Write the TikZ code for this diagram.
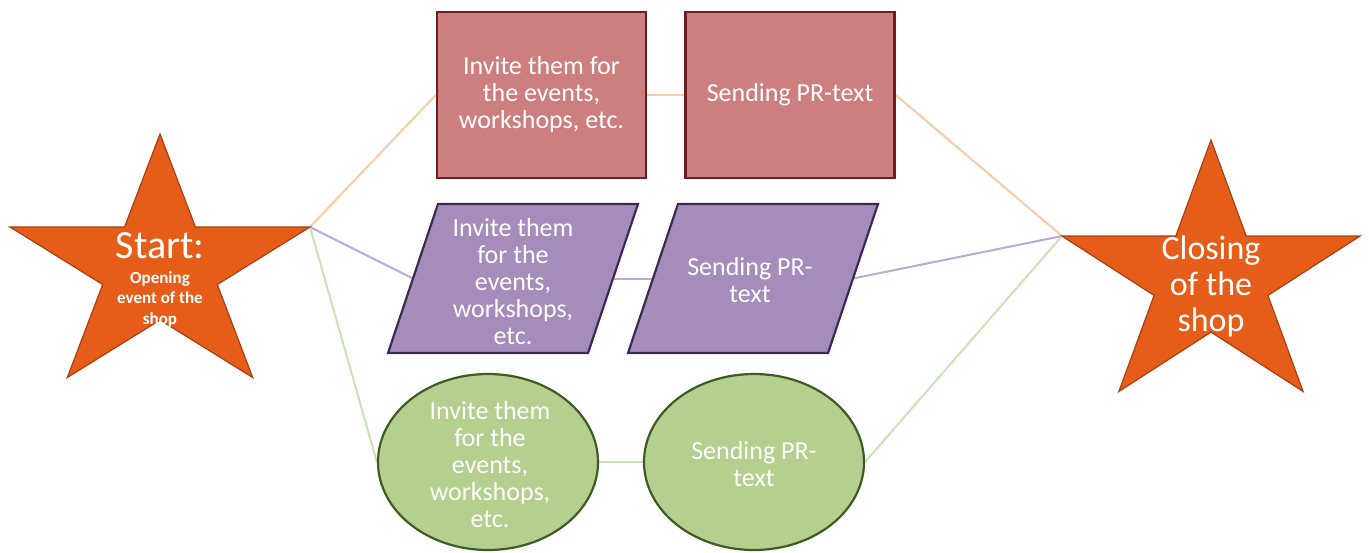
\documentclass[tikz,border=0pt]{standalone}
\usepackage{fontspec}
\setmainfont{Carlito}
\usetikzlibrary{shapes.geometric,backgrounds}

\definecolor{starfill}{HTML}{E65C19}
\definecolor{starline}{HTML}{A8400F}
\definecolor{redfill}{HTML}{CD7E7E}
\definecolor{redline}{HTML}{6A2020}
\definecolor{purfill}{HTML}{A68CBA}
\definecolor{purline}{HTML}{3C2A52}
\definecolor{grnfill}{HTML}{B4CF8E}
\definecolor{grnline}{HTML}{3D5C22}
\definecolor{olink}{HTML}{FBCBA5}
\definecolor{plink}{HTML}{B9A9D6}
\definecolor{glink}{HTML}{CBE3B3}

\begin{document}
\begin{tikzpicture}[x=1pt,y=-1pt,
  txt/.style={text=white, align=center, inner sep=0pt,
              font=\fontsize{26}{27}\selectfont},
  starshape/.style={fill=starfill, draw=starline, line width=1.2pt, line join=miter},
  redbox/.style={rectangle, fill=redfill, draw=redline, line width=2.5pt,
                 minimum width=209pt, minimum height=166pt, txt},
  parashape/.style={fill=purfill, draw=purline, line width=2.2pt, line join=miter},
  ovalbox/.style={ellipse, fill=grnfill, draw=grnline, line width=2.2pt,
                  minimum width=220pt, minimum height=176pt, inner sep=0pt},
  olinkline/.style={draw=olink, line width=2pt},
  plinkline/.style={draw=plink, line width=2pt},
  glinkline/.style={draw=glink, line width=2pt}]

\useasboundingbox (0,0) rectangle (1369,552);

% start star
\begin{scope}[shift={(160,268.6)}, xscale=157.7, yscale=-134.6]
  \draw[starshape] (90:1) -- (126:.382) -- (162:1) -- (198:.382) -- (234:1)
    -- (270:.382) -- (306:1) -- (342:.382) -- (18:1) -- (54:.382) -- cycle;
  \coordinate (start-r) at (18:1);
\end{scope}
\node[txt, font=\fontsize{17}{20.5}\selectfont\bfseries] (start) at (160,280)
  {{\fontsize{40}{30}\selectfont\mdseries Start:}\\[4pt]
   Opening\\event of the\\shop};

% closing star
\begin{scope}[shift={(1211,279)}, xscale=156.7, yscale=-139]
  \draw[starshape] (90:1) -- (126:.382) -- (162:1) -- (198:.382) -- (234:1)
    -- (270:.382) -- (306:1) -- (342:.382) -- (18:1) -- (54:.382) -- cycle;
  \coordinate (close-l) at (162:1);
\end{scope}
\node[txt, font=\fontsize{34}{36}\selectfont] (close) at (1211,286)
  {Closing\\of the\\shop};

% top row: rectangles
\node[redbox] (r1) at (541.5,95) {Invite them for\\the events,\\workshops, etc.};
\node[redbox] (r2) at (790,95) {Sending PR-text};

% middle row: parallelograms
\draw[parashape] (438,204) -- (638,204) -- (588,353) -- (388,353) -- cycle;
\coordinate (p1-w) at (413,278.5);
\coordinate (p1-e) at (613,278.5);
\node[txt] (p1) at (513,282) {Invite them\\for the\\events,\\workshops,\\etc.};

\draw[parashape] (678,204) -- (878,204) -- (828,353) -- (628,353) -- cycle;
\coordinate (p2-w) at (653,278.5);
\coordinate (p2-e) at (853,278.5);
\node[txt] (p2) at (750,280) {Sending PR-\\text};

% bottom row: ellipses
\node[ovalbox] (e1) at (488,462) {};
\node[txt] (e1t) at (490,465) {Invite them\\for the\\events,\\workshops,\\etc.};
\node[ovalbox] (e2) at (754,462) {};
\node[txt] (e2t) at (754,464) {Sending PR-\\text};

% white page and connectors behind the shapes
\begin{pgfonlayer}{background}
  \fill[white] (0,0) rectangle (1369,552);
  \draw[olinkline] (start-r) -- (r1.west);
  \draw[olinkline] (r1.east) -- (r2.west);
  \draw[olinkline] (r2.east) -- (close-l);
  \draw[plinkline] (start-r) -- (p1-w);
  \draw[plinkline] (p1-e) -- (p2-w);
  \draw[plinkline] (p2-e) -- (close-l);
  \draw[glinkline] (start-r) -- (e1.west);
  \draw[glinkline] (e1.east) -- (e2.west);
  \draw[glinkline] (e2.east) -- (close-l);
\end{pgfonlayer}
\end{tikzpicture}
\end{document}
